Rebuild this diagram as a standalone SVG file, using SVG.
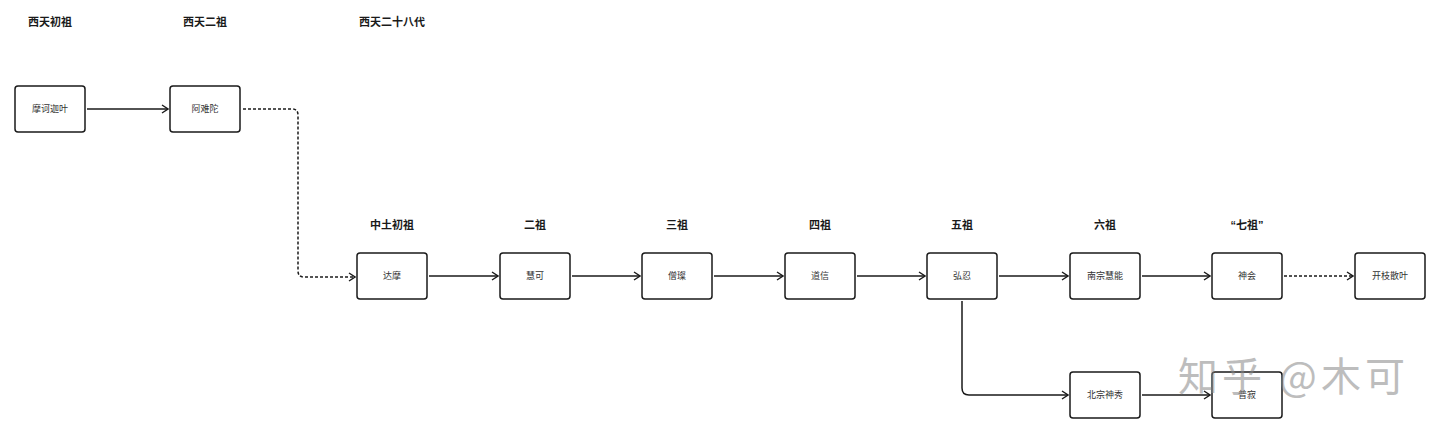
<svg xmlns="http://www.w3.org/2000/svg" width="1440" height="434" viewBox="0 0 1440 434">
<defs>
<marker id="arr" viewBox="0 0 10 10" refX="9" refY="5" markerWidth="10" markerHeight="10" markerUnits="userSpaceOnUse" orient="auto">
<path d="M3,1 L9,5 L3,9" fill="none" stroke="#1a1a1a" stroke-width="1.4"/>
</marker>
<style>
.box{fill:#fff;stroke:#1a1a1a;stroke-width:1.5}
.lbl{font-family:"Liberation Sans","Noto Sans CJK SC",sans-serif;font-size:9px;fill:#333;text-anchor:middle;dominant-baseline:central}
.hdr{font-family:"Liberation Sans","Noto Sans CJK SC",sans-serif;font-size:11px;font-weight:bold;fill:#1a1a1a;text-anchor:middle;dominant-baseline:central}
.ln{fill:none;stroke:#1a1a1a;stroke-width:1.5;marker-end:url(#arr)}
.dot{stroke-dasharray:3 2}
.wm{font-family:"Noto Sans CJK SC",sans-serif;font-size:40px;fill:#888;opacity:0.55}
</style>
</defs>
<rect width="1440" height="434" fill="#fff"/>
<g id="headers">
<text class="hdr" x="50" y="22">西天初祖</text>
<text class="hdr" x="205" y="22">西天二祖</text>
<text class="hdr" x="392" y="22">西天二十八代</text>
<text class="hdr" x="392" y="225">中土初祖</text>
<text class="hdr" x="535" y="225">二祖</text>
<text class="hdr" x="677" y="225">三祖</text>
<text class="hdr" x="820" y="225">四祖</text>
<text class="hdr" x="962" y="225">五祖</text>
<text class="hdr" x="1105" y="225">六祖</text>
<text class="hdr" x="1247" y="225">“七祖”</text>
</g>
<g id="connectors">
<path class="ln" d="M87,109 H168"/>
<path class="ln dot" d="M243,109 H292 Q298,109 298,115 V271 Q298,277 304,277 H355"/>
<path class="ln" d="M429,276 H498"/>
<path class="ln" d="M572,276 H640"/>
<path class="ln" d="M714,276 H783"/>
<path class="ln" d="M857,276 H925"/>
<path class="ln" d="M999,276 H1068"/>
<path class="ln" d="M1142,276 H1210"/>
<path class="ln dot" d="M1284,276 H1353"/>
<path class="ln" d="M962,301 V388 Q962,395 969,395 H1068"/>
<path class="ln" d="M1142,395 H1210"/>
</g>
<g id="n1"><rect class="box" x="15" y="86" width="70" height="46" rx="3"/><text class="lbl" x="50" y="109">摩诃迦叶</text></g>
<g id="n2"><rect class="box" x="170" y="86" width="70" height="46" rx="3"/><text class="lbl" x="205" y="109">阿难陀</text></g>
<g id="n3"><rect class="box" x="357" y="253" width="70" height="46" rx="3"/><text class="lbl" x="392" y="276">达摩</text></g>
<g id="n4"><rect class="box" x="500" y="253" width="70" height="46" rx="3"/><text class="lbl" x="535" y="276">慧可</text></g>
<g id="n5"><rect class="box" x="642" y="253" width="70" height="46" rx="3"/><text class="lbl" x="677" y="276">僧璨</text></g>
<g id="n6"><rect class="box" x="785" y="253" width="70" height="46" rx="3"/><text class="lbl" x="820" y="276">道信</text></g>
<g id="n7"><rect class="box" x="927" y="253" width="70" height="46" rx="3"/><text class="lbl" x="962" y="276">弘忍</text></g>
<g id="n8"><rect class="box" x="1070" y="253" width="70" height="46" rx="3"/><text class="lbl" x="1105" y="276">南宗慧能</text></g>
<g id="n9"><rect class="box" x="1212" y="253" width="70" height="46" rx="3"/><text class="lbl" x="1247" y="276">神会</text></g>
<g id="n10"><rect class="box" x="1355" y="253" width="70" height="46" rx="3"/><text class="lbl" x="1390" y="276">开枝散叶</text></g>
<g id="n11"><rect class="box" x="1070" y="372" width="70" height="46" rx="3"/><text class="lbl" x="1105" y="395">北宗神秀</text></g>
<g id="n12"><rect class="box" x="1212" y="372" width="70" height="46" rx="3"/><text class="lbl" x="1247" y="395">普寂</text></g>
<g id="watermark"><text class="wm" x="1178" y="391" textLength="227" lengthAdjust="spacing">知乎 @木可</text></g>
</svg>
